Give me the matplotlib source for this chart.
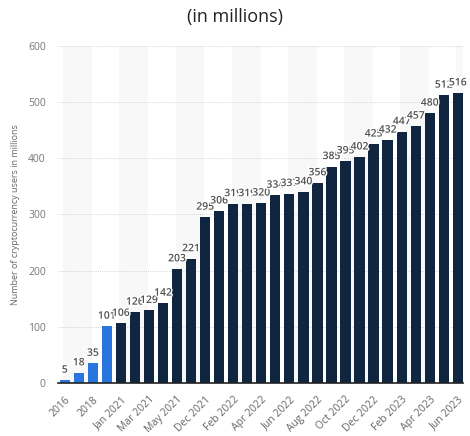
import numpy as np
import matplotlib.pyplot as plt
import matplotlib.patheffects as pe

plt.rcParams["font.family"] = ["Open Sans", "DejaVu Sans"]

periods = ["2016", "2017", "2018", "2020", "Jan 2021", "Feb 2021", "Mar 2021", "Apr 2021",
           "May 2021", "Jun 2021", "Dec 2021", "Jan 2022", "Feb 2022", "Mar 2022", "Apr 2022",
           "May 2022", "Jun 2022", "Jul 2022", "Aug 2022", "Sep 2022", "Oct 2022", "Nov 2022",
           "Dec 2022", "Jan 2023", "Feb 2023", "Mar 2023", "Apr 2023", "May 2023", "Jun 2023"]
users = [5, 18, 35, 101, 106, 126, 129, 142, 203, 221, 295, 306, 319, 319, 320,
         334, 337, 340, 356, 385, 395, 402, 425, 432, 447, 457, 480, 512, 516]
n_yearly = 4  # first bars (yearly figures) drawn in light blue

BLUE = "#2876dd"
NAVY = "#0f2540"

fig = plt.figure(figsize=(4.7, 4.36), dpi=100)
ax = fig.add_axes([0.124, 0.1216, 0.862, 0.7736])

x = np.arange(len(users))
colors = [BLUE if i < n_yearly else NAVY for i in x]

# faint alternating background bands
for i in range(0, len(users), 4):
    ax.axvspan(i - 0.1, i + 1.95, color="#f8f8f8", zorder=0, lw=0)

ax.bar(x, users, width=0.73, color=colors, zorder=2)

for xi, v in zip(x, users):
    ax.text(xi, v + 8, str(v), ha="center", va="bottom", fontsize=7.5,
            fontweight="semibold", color="#505050", zorder=3,
            path_effects=[pe.withStroke(linewidth=2, foreground="white")])

ax.set_xlim(-0.46, 28.4)
ax.set_ylim(0, 600)
ax.set_yticks(range(0, 601, 100))
ax.yaxis.grid(True, linestyle=(0, (1, 1.5)), color="#c8c8c8", linewidth=0.6, zorder=1)
ax.set_axisbelow(True)

ax.set_xticks(x[::2])
ax.set_xticklabels(periods[::2], rotation=45, ha="right", va="top",
                   rotation_mode="anchor", fontsize=7.5, color="#666666")
ax.tick_params(axis="x", length=0, pad=8)
ax.tick_params(axis="y", length=0, pad=9, labelsize=7.5, labelcolor="#777777")

for side in ["top", "right", "left"]:
    ax.spines[side].set_visible(False)
ax.spines["bottom"].set_color("#222222")
ax.spines["bottom"].set_linewidth(1.2)

ax.set_ylabel("Number of cryptocurrency users in millions", fontsize=6.5, color="#666666",
              labelpad=6)

fig.text(0.5, 0.961, "(in millions)", ha="center", va="center", fontsize=13, color="#222222")

fig.savefig("out.png", dpi=100)
